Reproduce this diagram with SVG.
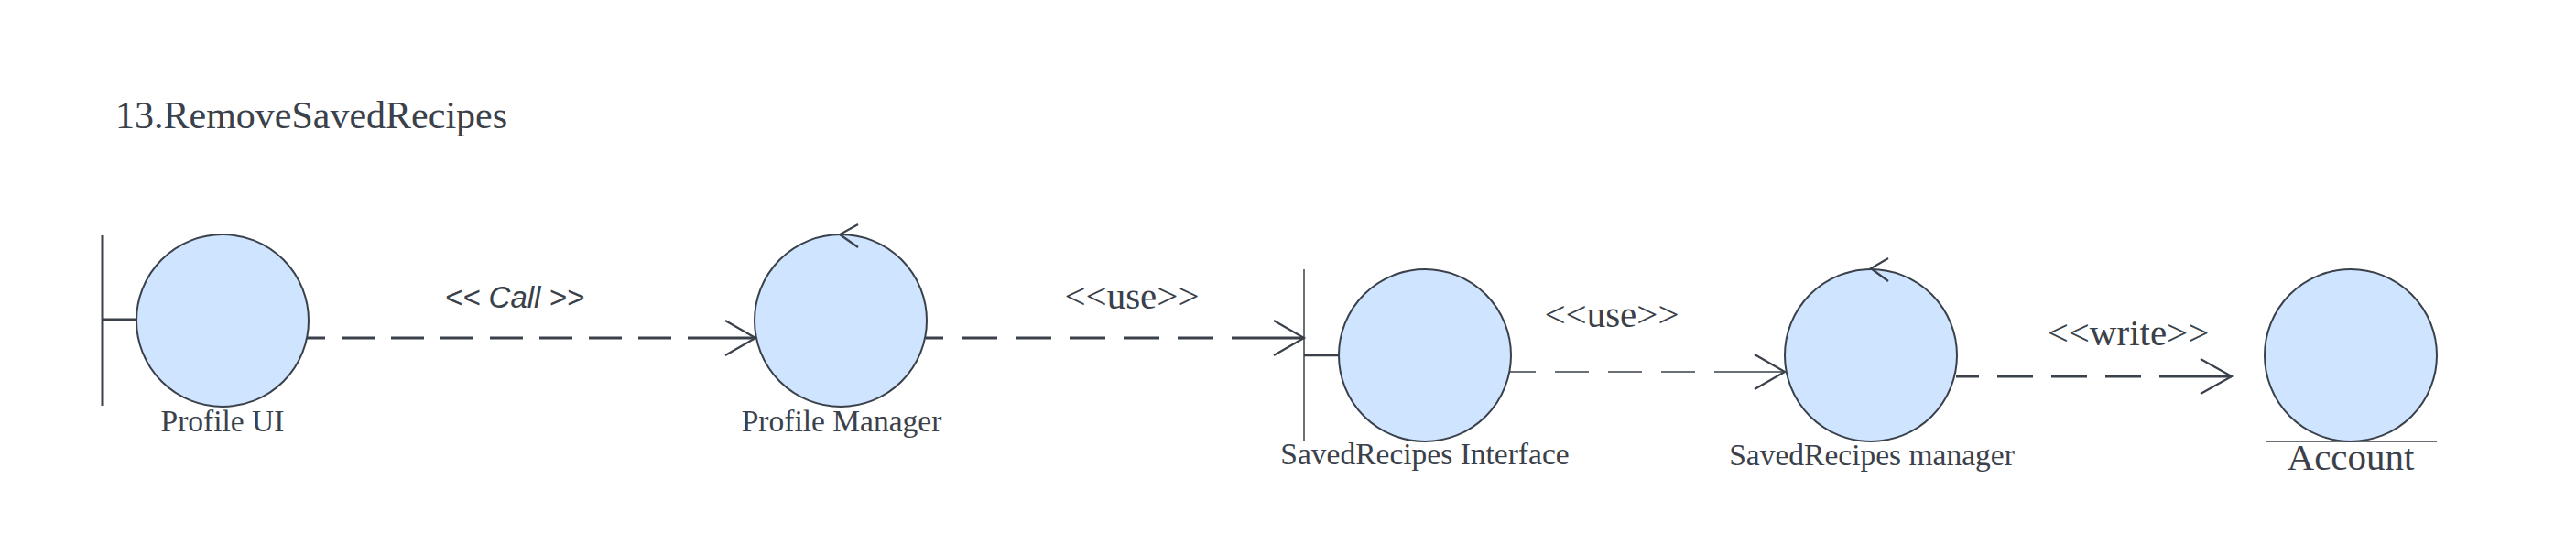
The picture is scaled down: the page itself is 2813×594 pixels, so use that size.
<svg xmlns="http://www.w3.org/2000/svg" width="2813" height="594" viewBox="0 0 2813 594">
  <style>
    .bg { fill: #ffffff; }
    .node { fill: #cfe4ff; stroke: #3a414a; stroke-width: 2; }
    .deco { fill: none; stroke: #3a414a; stroke-linecap: butt; }
    .lbl { font-family: "Liberation Serif", "Times New Roman", serif; fill: #3a414a; text-anchor: middle; }
    .title { font-family: "Liberation Serif", "Times New Roman", serif; fill: #3a414a; font-size: 42px; }
    .conn { fill: none; stroke: #3a414a; }
    .dashA { stroke-width: 3; stroke-dasharray: 36 18; }
    .dashB { stroke-width: 3; stroke-dasharray: 39 20; }
    .dashThin { stroke-width: 1.5; stroke-dasharray: 37 21; }
    .head { fill: none; stroke: #3a414a; stroke-width: 2.2; stroke-linejoin: miter; }
    .clbl { font-family: "Liberation Serif", "Times New Roman", serif; fill: #3a414a; font-size: 41px; text-anchor: middle; }
    .call { font-family: "Liberation Sans", Arial, sans-serif; font-style: italic; fill: #3a414a; font-size: 33px; text-anchor: middle; }
  </style>
  <rect class="bg" x="0" y="0" width="2813" height="594"/>

  <text id="title" class="title" x="126" y="140">13.RemoveSavedRecipes</text>

  <g id="connectors">
    <!-- Profile UI -> Profile Manager -->
    <path class="conn dashA" d="M787 369 H335"/>
    <path class="conn" stroke-width="3" d="M787 369 H825"/>
    <path class="head" d="M792 350 L825 369 L792 388"/>
    <text class="call" x="562" y="336">&lt;&lt; Call &gt;&gt;</text>

    <!-- Profile Manager -> SavedRecipes Interface -->
    <path class="conn dashB" d="M1384 369 H1011"/>
    <path class="conn" stroke-width="3" d="M1384 369 H1424"/>
    <path class="head" d="M1391 350 L1424 369 L1391 388"/>
    <text class="clbl" x="1236" y="337">&lt;&lt;use&gt;&gt;</text>

    <!-- SavedRecipes Interface -> SavedRecipes manager -->
    <path class="conn dashThin" d="M1909 406 H1649"/>
    <path class="conn" stroke-width="1.5" d="M1909 406 H1949"/>
    <path class="head" d="M1916 387 L1949 406 L1916 425"/>
    <text class="clbl" x="1760" y="357">&lt;&lt;use&gt;&gt;</text>

    <!-- SavedRecipes manager -> Account -->
    <path class="conn dashB" d="M2397 411 H2136"/>
    <path class="conn" stroke-width="3" d="M2397 411 H2437"/>
    <path class="head" d="M2403 392 L2437 411 L2403 430"/>
    <text class="clbl" x="2324" y="377">&lt;&lt;write&gt;&gt;</text>
  </g>

  <g id="profile-ui">
    <line class="deco" stroke-width="3" x1="112" y1="257" x2="112" y2="443"/>
    <line class="deco" stroke-width="3" x1="112" y1="349" x2="150" y2="349"/>
    <circle class="node" cx="243" cy="350" r="94"/>
    <text class="lbl" font-size="33.5" x="243" y="471">Profile UI</text>
  </g>

  <g id="profile-manager">
    <circle class="node" cx="918" cy="350" r="94"/>
    <path class="head" d="M937 245 L917 256 L937 270"/>
    <text class="lbl" font-size="33.5" x="919" y="471">Profile Manager</text>
  </g>

  <g id="savedrecipes-interface">
    <line class="deco" stroke-width="1.5" x1="1424" y1="294" x2="1424" y2="482"/>
    <line class="deco" stroke-width="2.5" x1="1424" y1="388" x2="1463" y2="388"/>
    <circle class="node" cx="1556" cy="388" r="94"/>
    <text class="lbl" font-size="33.5" x="1556" y="507">SavedRecipes Interface</text>
  </g>

  <g id="savedrecipes-manager">
    <circle class="node" cx="2043" cy="388" r="94"/>
    <path class="head" d="M2062 282 L2043 293 L2062 307"/>
    <text class="lbl" font-size="33.5" x="2044" y="508">SavedRecipes manager</text>
  </g>

  <g id="account">
    <circle class="node" cx="2567" cy="388" r="94"/>
    <line class="deco" stroke-width="1.5" x1="2474" y1="482" x2="2661" y2="482"/>
    <text class="lbl" font-size="41" x="2567" y="513">Account</text>
  </g>
</svg>
